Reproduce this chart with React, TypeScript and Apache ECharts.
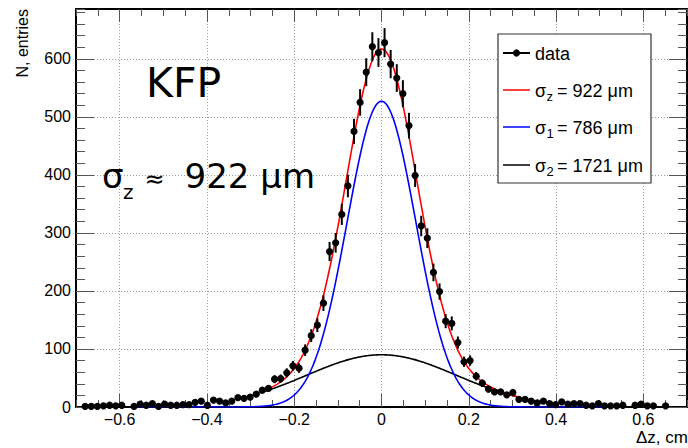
import React, { useEffect, useRef } from "react";
import * as echarts from "echarts";

// Histogram: 100 bins of width 0.014 from -0.7 to 0.7 (entries per bin)
const BIN_MIN = -0.7;
const BIN_WIDTH = 0.014;
const counts = [
  0, 1, 1, 1, 2, 3, 2, 3, 0, 1,
  5, 3, 6, 1, 5, 3, 3, 4, 4, 8,
  10, 3, 12, 10, 7, 10, 16, 15, 17, 22,
  29, 32, 48, 49, 59, 71, 67, 98, 123, 141,
  179, 268, 283, 332, 381, 475, 525, 577, 621, 611,
  628, 591, 567, 540, 485, 399, 312, 291, 232, 199,
  148, 144, 111, 78, 80, 53, 41, 31, 26, 26,
  21, 25, 13, 13, 10, 7, 10, 6, 4, 9,
  5, 6, 6, 3, 2, 6, 2, 2, 2, 3,
  0, 3, 5, 2, 2, 0, 2, 0, 0, 0,
];

// Fit parameters (double Gaussian)
const fitMean = 0;
const ampCore = 527;
const sigmaCore = 0.0786; // 786 um
const ampTail = 90;
const sigmaTail = 0.1721; // 1721 um
const sumRange = [-0.28, 0.31];
const coreRange = [-0.57, 0.55];
const tailRange = [-0.28, 0.31];

const xMajorTicks = [-0.6, -0.4, -0.2, 0, 0.2, 0.4, 0.6];
const yMajorTicks = [0, 100, 200, 300, 400, 500, 600];
const X_MIN = -0.7;
const X_MAX = 0.7;
const Y_MIN = 0;
const Y_MAX = 686;

const legendEntries = [
  { label: "data", sub: "", value: "", color: "#000000", marker: true },
  { label: "σ", sub: "z", value: "= 922 μm", color: "#ff0000", marker: false },
  { label: "σ", sub: "1", value: "= 786 μm", color: "#0000ff", marker: false },
  { label: "σ", sub: "2", value: "= 1721 μm", color: "#000000", marker: false },
];

const ROOTFONT = '"Liberation Sans", Arial, Helvetica, sans-serif';
const BIGFONT = '"DejaVu Sans", Verdana, sans-serif';

const gauss = (x: number, a: number, s: number) =>
  a * Math.exp(-((x - fitMean) * (x - fitMean)) / (2 * s * s));

function sampleCurve(range: number[], f: (x: number) => number) {
  const pts: number[][] = [];
  const step = 0.002;
  for (let x = range[0]; x <= range[1] + 1e-9; x += step) pts.push([x, f(x)]);
  return pts;
}

function buildOption() {
  const points = counts
    .map((n, i) => [BIN_MIN + BIN_WIDTH * (i + 0.5), n])
    .filter((p) => p[1] > 0);

  const sumCurve = sampleCurve(sumRange, (x) => gauss(x, ampCore, sigmaCore) + gauss(x, ampTail, sigmaTail));
  const coreCurve = sampleCurve(coreRange, (x) => gauss(x, ampCore, sigmaCore));
  const tailCurve = sampleCurve(tailRange, (x) => gauss(x, ampTail, sigmaTail));

  const tickColor = "#555";
  const xLabel = (v: number) => {
    if (Math.abs(v) < 1e-9) return "0";
    return (v < 0 ? "\u2212" : "") + Math.abs(v).toFixed(1);
  };

  const xAxisBase = (position: string) => ({
    type: "value",
    position,
    min: X_MIN,
    max: X_MAX,
    axisLine: { show: true, onZero: false, lineStyle: { color: "#000", width: 2 } },
    splitLine: { show: false },
    axisLabel: { show: false },
  });
  const yAxisBase = (position: string) => ({
    type: "value",
    position,
    min: Y_MIN,
    max: Y_MAX,
    axisLine: { show: true, onZero: false, lineStyle: { color: "#000", width: 2 } },
    splitLine: { show: false },
    axisLabel: { show: false },
  });

  const xAxis = [
    {
      ...xAxisBase("bottom"),
      axisTick: { show: true, inside: true, length: 13, customValues: xMajorTicks, lineStyle: { color: tickColor, width: 1 } },
      axisLabel: {
        show: true,
        customValues: xMajorTicks,
        formatter: xLabel,
        fontFamily: ROOTFONT,
        fontSize: 16,
        color: "#000",
        margin: 4,
      },
      splitLine: { show: true, lineStyle: { color: "#9a9a9a", width: 1, type: [1, 2] } },
    },
    {
      ...xAxisBase("bottom"),
      interval: 0.05,
      axisLine: { show: false, onZero: false },
      axisTick: { show: true, inside: true, length: 7, lineStyle: { color: tickColor, width: 1 } },
    },
    {
      ...xAxisBase("top"),
      axisTick: { show: true, inside: true, length: 13, customValues: xMajorTicks, lineStyle: { color: tickColor, width: 1 } },
    },
    {
      ...xAxisBase("top"),
      interval: 0.05,
      axisLine: { show: false, onZero: false },
      axisTick: { show: true, inside: true, length: 7, lineStyle: { color: tickColor, width: 1 } },
    },
  ];

  const yAxis = [
    {
      ...yAxisBase("left"),
      axisTick: { show: true, inside: true, length: 18, customValues: yMajorTicks, lineStyle: { color: tickColor, width: 1 } },
      axisLabel: {
        show: true,
        customValues: yMajorTicks,
        fontFamily: ROOTFONT,
        fontSize: 16,
        color: "#000",
        margin: 5,
      },
      splitLine: { show: true, lineStyle: { color: "#9a9a9a", width: 1, type: [1, 2] } },
    },
    {
      ...yAxisBase("left"),
      interval: 20,
      axisLine: { show: false, onZero: false },
      axisTick: { show: true, inside: true, length: 9, lineStyle: { color: tickColor, width: 1 } },
    },
    {
      ...yAxisBase("right"),
      axisTick: { show: true, inside: true, length: 18, customValues: yMajorTicks, lineStyle: { color: tickColor, width: 1 } },
    },
    {
      ...yAxisBase("right"),
      interval: 20,
      axisLine: { show: false, onZero: false },
      axisTick: { show: true, inside: true, length: 9, lineStyle: { color: tickColor, width: 1 } },
    },
  ];

  const lineSeries = (name: string, data: number[][], color: string) => ({
    name,
    type: "line",
    xAxisIndex: 0,
    yAxisIndex: 0,
    data,
    showSymbol: false,
    symbol: "none",
    smooth: false,
    lineStyle: { color, width: 1.6 },
    z: 3,
    silent: true,
  });

  // Legend drawn as graphics
  const legendLeft = 498;
  const legendTop = 34;
  const legendW = 153;
  const legendH = 149;
  const rowYs = [53, 90, 127, 165];
  const legendGraphics: any[] = [
    {
      type: "rect",
      z: 100,
      shape: { x: legendLeft, y: legendTop, width: legendW, height: legendH },
      style: { fill: "#fff", stroke: "#333", lineWidth: 1.2 },
    },
  ];
  const textStyle = (text: string, fontSize: number) => ({
    text,
    fontFamily: ROOTFONT,
    fontSize,
    fill: "#000",
    align: "left",
    verticalAlign: "middle",
    textAlign: "left",
    textVerticalAlign: "middle",
  });
  legendEntries.forEach((e, k) => {
    const y = rowYs[k];
    legendGraphics.push({
      type: "line",
      z: 101,
      shape: { x1: 503, y1: y, x2: 530, y2: y },
      style: { stroke: e.color, lineWidth: e.marker ? 2 : 1.5 },
    });
    if (e.marker) {
      legendGraphics.push({
        type: "circle",
        z: 102,
        shape: { cx: 516.5, cy: y, r: 3.6 },
        style: { fill: "#000" },
      });
    }
    legendGraphics.push({ type: "text", z: 102, x: 535, y: y + 0.5, style: textStyle(e.label, 18) });
    if (e.sub) {
      legendGraphics.push({ type: "text", z: 102, x: 546.5, y: y + 6.5, style: textStyle(e.sub, 13) });
      legendGraphics.push({ type: "text", z: 102, x: 557, y: y + 0.5, style: textStyle(e.value, 18) });
    }
  });

  const txt = (text: string, x: number, y: number, fontSize: number, fontFamily: string, align = "left", extra: any = {}) => ({
    type: "text",
    z: 50,
    x,
    y,
    ...extra,
    style: {
      text,
      fontFamily,
      fontSize,
      fill: "#000",
      align,
      verticalAlign: "middle",
      textAlign: align,
      textVerticalAlign: "middle",
    },
  });

  const graphic = [
    txt("KFP", 146, 82.8, 41, BIGFONT),
    txt("σ", 102, 176.2, 34, BIGFONT),
    txt("z", 123, 192, 20, BIGFONT),
    txt("≈", 144.5, 179, 24, BIGFONT),
    txt("922 μm", 184.6, 176.2, 34, BIGFONT),
    txt("N, entries", 22.5, 9, 16, ROOTFONT, "right", { rotation: Math.PI / 2 }),
    txt("Δz, cm", 636, 437, 17, ROOTFONT, "left"),
    ...legendGraphics,
  ];

  return {
    animation: false,
    backgroundColor: "#fff",
    grid: { left: 76, right: 1, top: 9, bottom: 41 },
    xAxis,
    yAxis,
    graphic,
    series: [
      lineSeries("tail", tailCurve, "#000000"),
      lineSeries("core", coreCurve, "#0000ff"),
      lineSeries("sum", sumCurve, "#ff0000"),
      {
        name: "data",
        type: "custom",
        xAxisIndex: 0,
        yAxisIndex: 0,
        data: points,
        encode: { x: 0, y: 1 },
        z: 5,
        silent: true,
        renderItem: (params: any, api: any) => {
          const x = api.value(0);
          const n = api.value(1);
          const e = Math.sqrt(n);
          const c = api.coord([x, n]);
          const t = api.coord([x, n + e]);
          const b = api.coord([x, Math.max(0, n - e)]);
          return {
            type: "group",
            children: [
              {
                type: "line",
                shape: { x1: c[0], y1: t[1], x2: c[0], y2: b[1] },
                style: { stroke: "#000", lineWidth: 2 },
              },
              {
                type: "circle",
                shape: { cx: c[0], cy: c[1], r: 3.6 },
                style: { fill: "#000" },
              },
            ],
          };
        },
      },
    ],
  };
}

export default function App() {
  const ref = useRef<HTMLDivElement>(null);
  useEffect(() => {
    if (!ref.current) return;
    const chart = echarts.init(ref.current, null, { renderer: "svg" });
    chart.setOption(buildOption() as any);
    return () => chart.dispose();
  }, []);
  return (
    <div
      ref={ref}
      style={{ position: "fixed", left: 0, top: 0, width: 688, height: 448, background: "#fff" }}
    />
  );
}
